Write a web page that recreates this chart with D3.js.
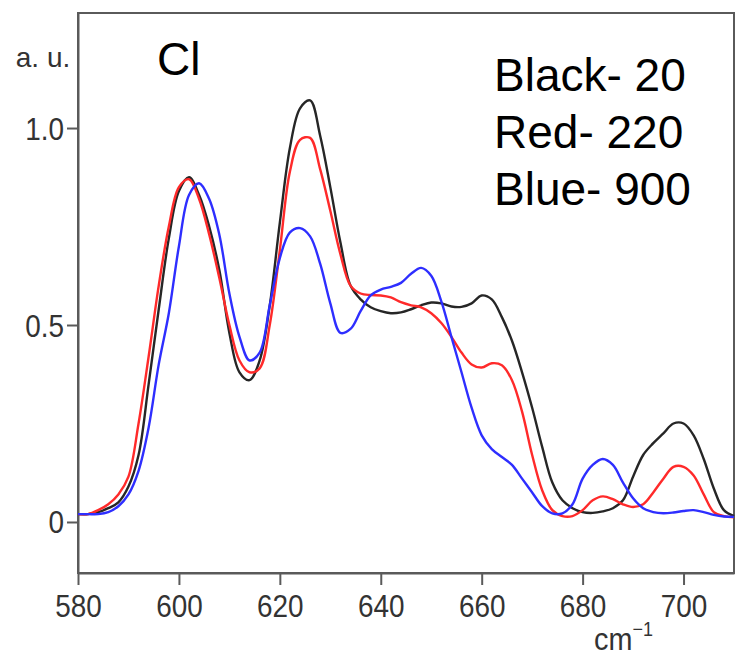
<!DOCTYPE html>
<html><head><meta charset="utf-8">
<script src="https://cdn.jsdelivr.net/npm/d3@7"></script>
<style>body{margin:0;background:#fff}svg{display:block}</style>
</head><body>
<svg id="c" width="736" height="656"></svg>
<script>
const wavenumbers = [580,582,584,586,588,590,592,594,596,598,600,602,604,606,608,610,612,614,616,618,620,622,624,626,628,630,632,634,636,638,640,642,644,646,648,650,652,654,656,658,660,662,664,666,668,670,672,674,676,678,680,682,684,686,688,690,692,694,696,698,700,702,704,706,708,710];
const black20 = [0.02,0.02,0.025,0.035,0.05,0.09,0.17,0.35,0.54,0.72,0.84,0.875,0.83,0.75,0.64,0.48,0.38,0.36,0.41,0.55,0.76,0.95,1.05,1.07,0.98,0.85,0.71,0.6,0.565,0.545,0.535,0.53,0.532,0.54,0.55,0.557,0.555,0.547,0.546,0.555,0.575,0.565,0.52,0.46,0.38,0.29,0.19,0.1,0.055,0.035,0.025,0.023,0.027,0.035,0.055,0.115,0.17,0.2,0.225,0.25,0.25,0.22,0.16,0.085,0.03,0.015];
const red220 = [0.02,0.02,0.03,0.045,0.07,0.115,0.25,0.42,0.6,0.75,0.85,0.87,0.82,0.73,0.62,0.5,0.41,0.38,0.39,0.5,0.69,0.89,0.97,0.975,0.895,0.79,0.68,0.6,0.58,0.576,0.575,0.57,0.558,0.55,0.545,0.53,0.505,0.47,0.43,0.4,0.392,0.403,0.398,0.36,0.28,0.17,0.08,0.03,0.015,0.015,0.03,0.055,0.065,0.058,0.045,0.038,0.045,0.075,0.11,0.14,0.14,0.118,0.07,0.025,0.015,0.012];
const blue900 = [0.02,0.02,0.02,0.025,0.04,0.07,0.13,0.24,0.4,0.53,0.7,0.83,0.86,0.82,0.73,0.58,0.47,0.41,0.43,0.55,0.67,0.735,0.746,0.725,0.655,0.555,0.48,0.49,0.535,0.575,0.59,0.597,0.607,0.63,0.645,0.625,0.56,0.47,0.38,0.29,0.22,0.185,0.165,0.145,0.11,0.075,0.04,0.022,0.022,0.045,0.11,0.145,0.16,0.145,0.1,0.06,0.035,0.025,0.022,0.024,0.028,0.03,0.025,0.018,0.014,0.013];
const xTicks = [580,600,620,640,660,680,700];
const yTicks = [0,0.5,1.0];
const yTickLabels = ["0","0.5","1.0"];
const legendLines = ["Black- 20","Red- 220","Blue- 900"];

const svg = d3.select("#c");
const L=78, R=734, T=13, B=573;
const x = d3.scaleLinear().domain([580,710]).range([L,R]);
const y = d3.scaleLinear().domain([-0.1295,1.292]).range([B,T]);
const axisColor = "#5a5a5a";
const labelColor = "#333";
const font = "'Liberation Sans', Arial, Helvetica, sans-serif";

// frame
svg.append("rect").attr("x",L).attr("y",T).attr("width",R-L).attr("height",B-T)
  .attr("fill","none").attr("stroke",axisColor).attr("stroke-width",2);

// x axis
const xa = svg.append("g").attr("transform",`translate(0,${B})`)
  .call(d3.axisBottom(x).tickValues(xTicks).tickSize(12).tickSizeOuter(0).tickFormat(d3.format("d")));
xa.select(".domain").attr("stroke",axisColor).attr("stroke-width",2);
xa.selectAll(".tick line").attr("stroke",axisColor).attr("stroke-width",2);
xa.selectAll(".tick text").attr("fill",labelColor).attr("font-family",font).attr("font-size",31)
  .attr("y",0).attr("dy",0).attr("transform","translate(0,44) scale(0.9,1)");

// y axis
const ya = svg.append("g").attr("transform",`translate(${L},0)`)
  .call(d3.axisLeft(y).tickValues(yTicks).tickSize(11).tickSizeOuter(0).tickFormat((d,i)=>yTickLabels[i]));
ya.select(".domain").attr("stroke",axisColor).attr("stroke-width",2);
ya.selectAll(".tick line").attr("stroke",axisColor).attr("stroke-width",2);
ya.selectAll(".tick text").attr("fill",labelColor).attr("font-family",font).attr("font-size",31)
  .attr("x",0).attr("dy",0).attr("transform","translate(-14,11) scale(0.9,1)");

// unit labels
svg.append("text").attr("x",43).attr("y",67).attr("text-anchor","middle").attr("fill",labelColor)
  .attr("font-family",font).attr("font-size",28).text("a. u.");
const cm = svg.append("text").attr("x",0).attr("y",0).attr("fill",labelColor)
  .attr("font-family",font).attr("font-size",32).attr("transform","translate(594,650) scale(0.9,1)");
cm.append("tspan").text("cm");
cm.append("tspan").attr("dy",-14).attr("font-size",20).text("\u22121");

// curves
const series = [
  {vals: black20, color:"#262626"},
  {vals: red220, color:"#ff2a2a"},
  {vals: blue900, color:"#2e2eff"}
];
const line = d3.line().x(d=>x(d[0])).y(d=>y(d[1])).curve(d3.curveCatmullRom.alpha(0.5));
const plot = svg.append("g");
series.forEach(s=>{
  plot.append("path").datum(wavenumbers.map((w,i)=>[w,s.vals[i]]))
    .attr("d",line).attr("fill","none").attr("stroke",s.color).attr("stroke-width",2.4)
    .attr("stroke-linejoin","round");
});

// annotations
svg.append("text").attr("x",157).attr("y",75).attr("fill","#000").attr("font-family",font)
  .attr("font-size",46).text("Cl");
legendLines.forEach((t,i)=>{
  svg.append("text").attr("x",494).attr("y",91+i*57).attr("fill","#000").attr("font-family",font)
    .attr("font-size",46).text(t);
});
</script>
</body></html>
